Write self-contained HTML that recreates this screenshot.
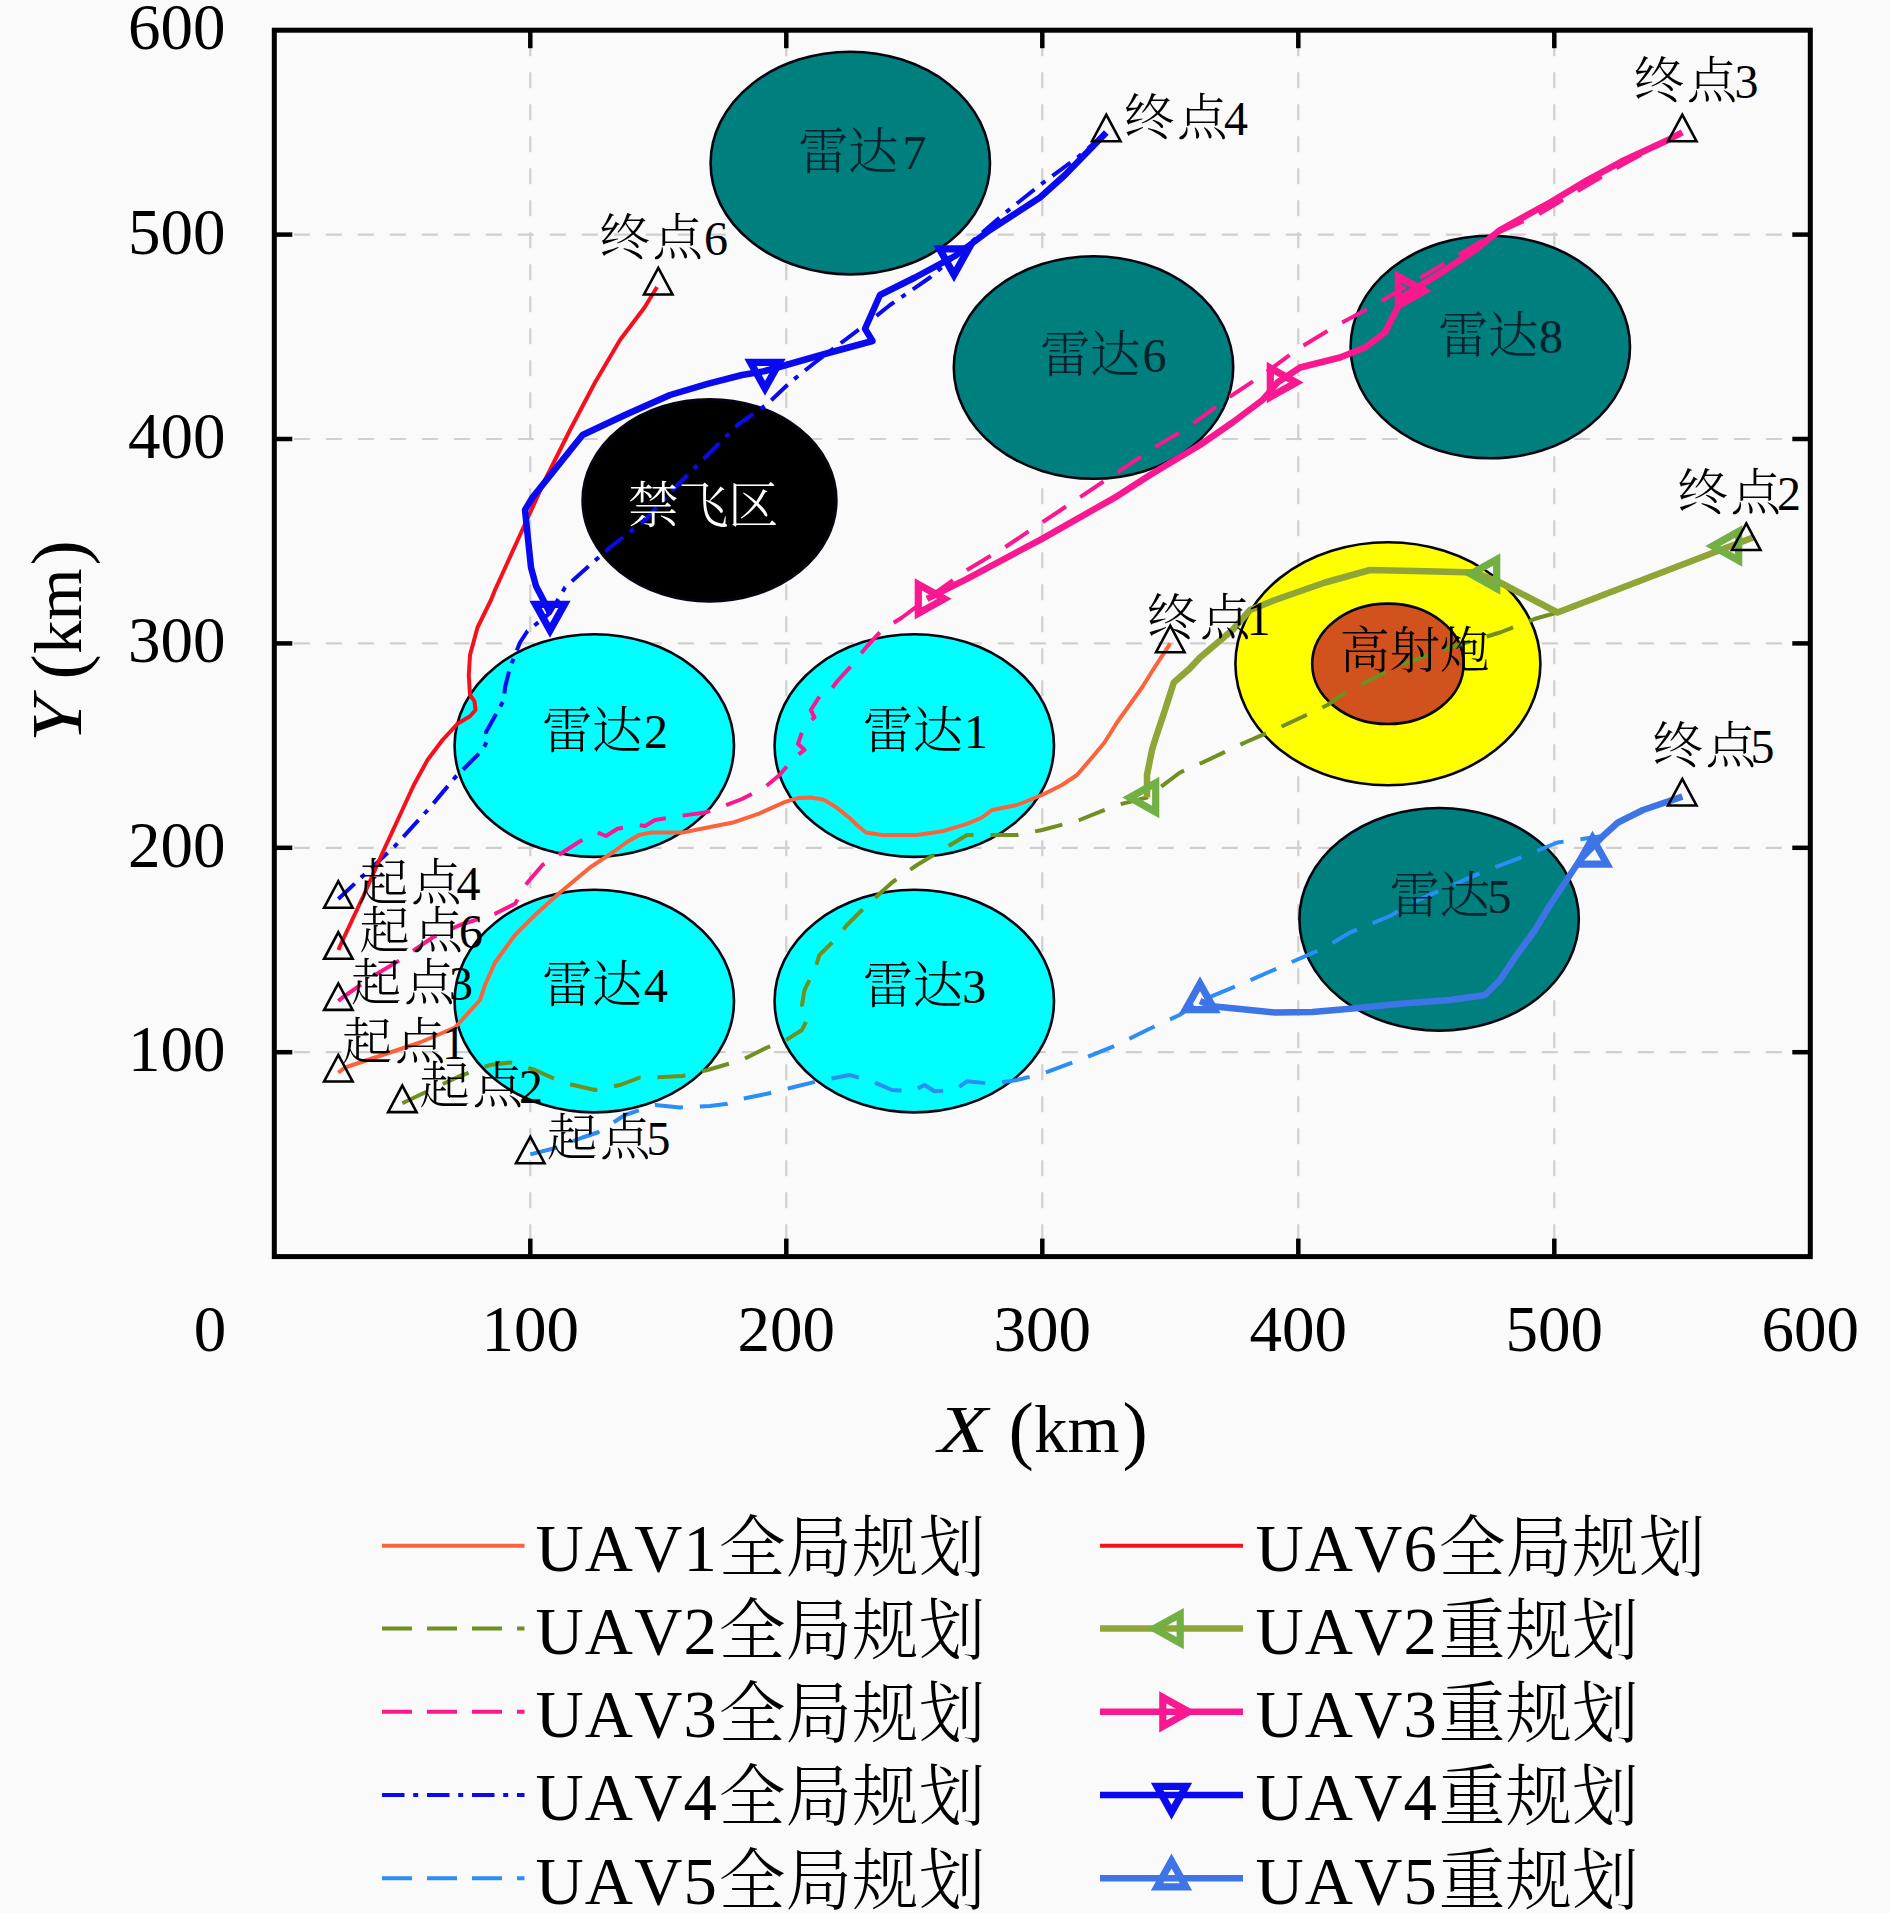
<!DOCTYPE html>
<html lang="zh"><head><meta charset="utf-8"><title>UAV path planning</title>
<style>
html,body{margin:0;padding:0;background:#fafafa;}
body{width:1890px;height:1913px;overflow:hidden;}
svg{display:block;font-family:"Liberation Serif", "Noto Serif CJK SC", serif;}
.grid{stroke:#cfcfcf;stroke-width:2.2;stroke-dasharray:16 16;fill:none}
.tick{stroke:#000;stroke-width:4.5;fill:none}
.num{font-size:65px;fill:#000}
.cn{font-size:50.5px;font-weight:300;font-kerning:none;letter-spacing:-0.5px}
.dg{font-size:48px;font-weight:400}
.ax{font-size:67px;fill:#000}
.lg{font-size:66.7px;fill:#000;font-weight:300;font-kerning:none}
.tri{fill:none;stroke:#000;stroke-width:2.6;stroke-linejoin:miter}
path.c{fill:none;stroke-linejoin:round;stroke-linecap:butt}
</style></head><body>
<svg width="1890" height="1913" viewBox="0 0 1890 1913">
<rect width="1890" height="1913" fill="#fafafa"/>
<line x1="530.3" y1="30.2" x2="530.3" y2="1256.6" class="grid" stroke-dashoffset="22"/>
<line x1="274.3" y1="1052.2" x2="1810.3" y2="1052.2" class="grid" stroke-dashoffset="12.5"/>
<line x1="786.3" y1="30.2" x2="786.3" y2="1256.6" class="grid" stroke-dashoffset="22"/>
<line x1="274.3" y1="847.8" x2="1810.3" y2="847.8" class="grid" stroke-dashoffset="12.5"/>
<line x1="1042.3" y1="30.2" x2="1042.3" y2="1256.6" class="grid" stroke-dashoffset="22"/>
<line x1="274.3" y1="643.4" x2="1810.3" y2="643.4" class="grid" stroke-dashoffset="12.5"/>
<line x1="1298.3" y1="30.2" x2="1298.3" y2="1256.6" class="grid" stroke-dashoffset="22"/>
<line x1="274.3" y1="439.0" x2="1810.3" y2="439.0" class="grid" stroke-dashoffset="12.5"/>
<line x1="1554.3" y1="30.2" x2="1554.3" y2="1256.6" class="grid" stroke-dashoffset="22"/>
<line x1="274.3" y1="234.6" x2="1810.3" y2="234.6" class="grid" stroke-dashoffset="12.5"/>
<ellipse cx="850.3" cy="163.1" rx="139.7" ry="111.3" fill="#007f7f" stroke="#05050f" stroke-width="2.6"/>
<ellipse cx="1093.5" cy="367.5" rx="139.7" ry="111.3" fill="#007f7f" stroke="#05050f" stroke-width="2.6"/>
<ellipse cx="1490.3" cy="347.0" rx="139.7" ry="111.3" fill="#007f7f" stroke="#05050f" stroke-width="2.6"/>
<ellipse cx="1439.1" cy="919.3" rx="139.7" ry="111.3" fill="#007f7f" stroke="#05050f" stroke-width="2.6"/>
<ellipse cx="709.5" cy="500.3" rx="126.9" ry="101.1" fill="#000" stroke="#05050f" stroke-width="2.6"/>
<ellipse cx="594.3" cy="745.6" rx="139.7" ry="111.3" fill="#00ffff" stroke="#05050f" stroke-width="2.6"/>
<ellipse cx="914.3" cy="745.6" rx="139.7" ry="111.3" fill="#00ffff" stroke="#05050f" stroke-width="2.6"/>
<ellipse cx="594.3" cy="1001.1" rx="139.7" ry="111.3" fill="#00ffff" stroke="#05050f" stroke-width="2.6"/>
<ellipse cx="914.3" cy="1001.1" rx="139.7" ry="111.3" fill="#00ffff" stroke="#05050f" stroke-width="2.6"/>
<ellipse cx="1387.9" cy="663.8" rx="152.5" ry="121.5" fill="#ffff00" stroke="#05050f" stroke-width="2.6"/>
<ellipse cx="1387.9" cy="663.8" rx="75.7" ry="60.2" fill="#d2521e" stroke="#05050f" stroke-width="2.6"/>
<rect x="274.3" y="30.2" width="1536.0" height="1226.4" fill="none" stroke="#000" stroke-width="5"/>
<line x1="530.3" y1="30.2" x2="530.3" y2="48.2" class="tick"/>
<line x1="530.3" y1="1256.6" x2="530.3" y2="1238.6" class="tick"/>
<line x1="274.3" y1="1052.2" x2="292.3" y2="1052.2" class="tick"/>
<line x1="1810.3" y1="1052.2" x2="1792.3" y2="1052.2" class="tick"/>
<line x1="786.3" y1="30.2" x2="786.3" y2="48.2" class="tick"/>
<line x1="786.3" y1="1256.6" x2="786.3" y2="1238.6" class="tick"/>
<line x1="274.3" y1="847.8" x2="292.3" y2="847.8" class="tick"/>
<line x1="1810.3" y1="847.8" x2="1792.3" y2="847.8" class="tick"/>
<line x1="1042.3" y1="30.2" x2="1042.3" y2="48.2" class="tick"/>
<line x1="1042.3" y1="1256.6" x2="1042.3" y2="1238.6" class="tick"/>
<line x1="274.3" y1="643.4" x2="292.3" y2="643.4" class="tick"/>
<line x1="1810.3" y1="643.4" x2="1792.3" y2="643.4" class="tick"/>
<line x1="1298.3" y1="30.2" x2="1298.3" y2="48.2" class="tick"/>
<line x1="1298.3" y1="1256.6" x2="1298.3" y2="1238.6" class="tick"/>
<line x1="274.3" y1="439.0" x2="292.3" y2="439.0" class="tick"/>
<line x1="1810.3" y1="439.0" x2="1792.3" y2="439.0" class="tick"/>
<line x1="1554.3" y1="30.2" x2="1554.3" y2="48.2" class="tick"/>
<line x1="1554.3" y1="1256.6" x2="1554.3" y2="1238.6" class="tick"/>
<line x1="274.3" y1="234.6" x2="292.3" y2="234.6" class="tick"/>
<line x1="1810.3" y1="234.6" x2="1792.3" y2="234.6" class="tick"/>
<path class="c" d="M338.3,1072.6 L345.0,1067.5 L382.5,1055.0 L420.0,1042.5 L455.0,1027.5 L480.0,1000.0 L485.0,985.0 L495.0,962.5 L515.0,935.0 L535.0,915.0 L560.0,892.5 L590.0,867.5 L612.5,852.5 L627.0,842.0 L639.0,835.0 L651.7,832.4 L683.5,832.4 L708.9,827.3 L734.3,822.2 L759.7,813.3 L785.1,801.9 L797.8,798.1 L810.5,797.5 L823.2,799.4 L835.9,807.0 L848.6,817.1 L858.0,826.0 L866.0,832.5 L882.0,835.0 L917.0,835.0 L942.0,831.3 L967.0,823.8 L982.0,817.5 L992.0,810.0 L1017.0,805.0 L1042.0,795.0 L1062.0,785.0 L1077.0,775.0 L1092.0,757.5 L1104.5,742.5 L1117.0,722.5 L1129.5,705.0 L1142.0,687.5 L1154.5,667.5 L1170.3,643.4" stroke="#f9643c" stroke-width="4.0"/>
<path class="c" d="M402.3,1103.3 L430.0,1090.0 L460.0,1076.0 L490.0,1065.0 L510.0,1062.5 L535.0,1070.0 L562.5,1082.5 L595.0,1090.0 L620.0,1085.0 L640.0,1077.5 L655.0,1077.5 L682.5,1076.0 L707.5,1070.0 L742.0,1060.0 L767.0,1047.5 L784.5,1041.0 L802.0,1030.0 L808.0,1017.5 L802.0,1005.0 L804.5,990.0 L814.5,970.0 L819.5,955.0 L834.5,940.0 L847.0,925.0 L867.0,905.0 L892.0,882.5 L917.0,865.0 L942.0,850.0 L967.0,835.0 L992.0,835.0 L1017.0,835.0 L1042.0,830.0 L1079.5,820.0 L1117.0,805.0 L1147.0,797.5 L1180.0,772.5 L1202.5,762.5 L1245.0,742.5 L1285.0,725.0 L1327.5,705.0 L1345.0,692.5 L1400.0,665.0 L1450.0,647.5 L1500.0,632.5 L1535.0,618.8 L1557.5,612.5 L1753.0,537.5" stroke="#6f8f1e" stroke-width="4.0" stroke-dasharray="28 17"/>
<path class="c" d="M338.3,1001.0 L342.5,997.5 L375.0,975.0 L400.0,960.0 L432.5,937.5 L460.0,925.0 L495.0,913.8 L515.0,903.8 L527.5,882.5 L542.5,865.0 L562.5,852.5 L580.0,841.3 L597.5,832.5 L606.0,836.0 L617.5,828.8 L637.5,825.0 L645.0,826.0 L655.0,820.0 L680.0,816.0 L705.0,812.5 L720.0,807.5 L742.0,799.0 L764.5,787.5 L779.5,775.0 L794.5,757.5 L804.5,750.0 L798.0,743.8 L804.5,725.0 L814.5,717.5 L810.8,710.0 L822.0,692.5 L829.5,691.3 L838.3,680.0 L852.0,665.0 L867.0,646.3 L882.0,630.0 L902.0,617.5 L927.0,598.8 L967.0,570.0 L1004.5,547.5 L1042.0,522.5 L1079.5,497.5 L1117.0,472.5 L1154.5,447.5 L1187.5,427.5 L1232.5,395.0 L1262.5,375.0 L1300.0,347.5 L1337.5,325.0 L1375.0,305.0 L1412.5,282.5 L1450.0,260.0 L1487.5,237.5 L1537.5,215.0 L1575.0,192.5 L1622.0,165.0 L1682.3,132.4" stroke="#fa1890" stroke-width="4.0" stroke-dasharray="28 17"/>
<path class="c" d="M338.3,899.0 L395.0,846.0 L430.0,807.5 L455.0,777.5 L482.5,750.0 L487.5,740.0 L486.0,732.0 L490.0,725.0 L503.8,700.0 L505.0,687.5 L510.0,667.5 L520.0,642.5 L527.5,631.0 L550.0,613.0 L565.0,587.5 L590.0,565.0 L610.0,547.5 L645.0,520.0 L675.0,487.5 L707.5,455.0 L737.5,425.0 L767.5,403.8 L790.0,382.5 L815.0,362.5 L845.0,340.0 L865.0,325.0 L890.0,305.0 L930.0,277.5 L965.0,247.5 L1002.5,215.0 L1040.0,185.0 L1077.5,157.5 L1106.3,132.4" stroke="#0a0af0" stroke-width="4.0" stroke-dasharray="22.5 8.7 5 8.8"/>
<path class="c" d="M530.3,1154.4 L557.5,1147.5 L582.5,1137.5 L597.5,1132.5 L625.0,1115.0 L655.0,1105.0 L680.0,1107.5 L710.0,1106.0 L727.5,1103.8 L742.0,1098.8 L767.0,1093.8 L792.0,1087.5 L817.0,1081.3 L849.5,1075.0 L872.0,1081.3 L892.0,1090.0 L912.0,1091.3 L924.5,1085.0 L934.5,1091.3 L954.5,1090.0 L967.0,1081.3 L992.0,1083.8 L1017.0,1080.0 L1042.0,1073.8 L1079.5,1060.0 L1117.0,1045.0 L1147.0,1030.0 L1179.5,1015.0 L1200.0,1001.0 L1245.0,982.5 L1285.0,965.0 L1325.0,947.5 L1350.0,932.5 L1390.0,916.0 L1412.5,902.5 L1487.5,870.0 L1517.5,858.8 L1557.5,842.5 L1582.0,839.0 L1603.0,836.0 L1618.0,822.5 L1643.0,810.0 L1682.3,796.7" stroke="#2a8ef5" stroke-width="4.0" stroke-dasharray="28 17"/>
<path class="c" d="M338.5,950.0 L340.0,946.0 L365.0,892.5 L383.8,850.0 L400.0,815.0 L413.8,785.0 L427.5,760.0 L442.5,740.0 L457.5,723.8 L470.0,716.3 L475.5,710.0 L474.5,701.3 L470.0,695.0 L468.8,675.0 L470.0,655.0 L477.5,627.5 L491.0,600.0 L495.0,590.0 L520.0,535.0 L545.0,480.0 L570.0,430.0 L595.0,382.5 L620.0,340.0 L644.5,307.5 L657.0,287.0" stroke="#f5101e" stroke-width="4.0"/>
<path class="c" d="M1147.0,797.5 L1147.0,775.0 L1152.0,750.0 L1155.0,740.0 L1165.0,710.0 L1173.8,682.5 L1189.5,668.8 L1200.0,657.5 L1232.5,630.0 L1250.0,610.0 L1275.0,600.0 L1325.0,582.5 L1370.0,570.0 L1425.0,571.3 L1475.0,572.5 L1500.0,582.5 L1557.5,612.5 L1753.0,537.5" stroke="#8fa535" stroke-width="6.5"/>
<path class="c" d="M927.0,598.8 L967.0,578.8 L1042.0,538.8 L1117.0,496.3 L1150.0,475.0 L1200.0,445.0 L1232.5,422.5 L1262.5,400.0 L1277.5,382.5 L1300.0,367.5 L1340.0,357.5 L1365.0,347.5 L1385.0,332.5 L1395.0,312.5 L1405.0,295.0 L1437.5,275.0 L1475.0,250.0 L1500.0,230.0 L1550.0,202.5 L1587.5,180.0 L1622.0,161.3 L1668.0,140.0 L1682.3,132.4" stroke="#fa1890" stroke-width="6.5"/>
<path class="c" d="M550.0,613.0 L536.0,586.0 L531.0,567.5 L525.0,510.0 L532.5,497.5 L582.5,435.0 L625.0,415.0 L670.0,395.0 L707.5,383.8 L742.0,375.0 L765.0,371.0 L830.0,352.5 L872.5,341.0 L865.0,328.8 L870.0,317.5 L880.0,295.0 L915.0,277.5 L955.0,256.0 L990.0,230.0 L1040.0,197.5 L1065.0,175.0 L1106.3,132.4" stroke="#0a0af0" stroke-width="6.5"/>
<path class="c" d="M1200.0,1001.0 L1212.5,1006.3 L1250.0,1010.0 L1275.0,1012.5 L1312.5,1012.0 L1350.0,1008.8 L1400.0,1003.8 L1450.0,1000.0 L1485.0,995.0 L1500.0,980.0 L1515.0,957.5 L1535.0,930.0 L1550.0,905.0 L1565.0,882.5 L1580.0,860.0 L1592.5,847.0 L1603.0,836.0 L1618.0,822.5 L1643.0,810.0 L1682.3,796.7" stroke="#3d74e6" stroke-width="6.5"/>
<path d="M1155.7,783.0 L1155.7,812.0 L1129.7,797.5 Z" fill="none" stroke="#72b043" stroke-width="7.2" stroke-linejoin="miter"/>
<path d="M1496.7,559.5 L1496.7,588.5 L1470.7,574.0 Z" fill="none" stroke="#72b043" stroke-width="7.2" stroke-linejoin="miter"/>
<path d="M1738.7,531.5 L1738.7,560.5 L1712.7,546.0 Z" fill="none" stroke="#72b043" stroke-width="7.2" stroke-linejoin="miter"/>
<path d="M918.3,584.3 L918.3,613.3 L944.3,598.8 Z" fill="none" stroke="#fa1890" stroke-width="7.2" stroke-linejoin="miter"/>
<path d="M1270.3,368.0 L1270.3,397.0 L1296.3,382.5 Z" fill="none" stroke="#fa1890" stroke-width="7.2" stroke-linejoin="miter"/>
<path d="M1398.3,276.5 L1398.3,305.5 L1424.3,291.0 Z" fill="none" stroke="#fa1890" stroke-width="7.2" stroke-linejoin="miter"/>
<path d="M535.5,604.3 L564.5,604.3 L550.0,630.3 Z" fill="none" stroke="#0a0af0" stroke-width="7.2" stroke-linejoin="miter"/>
<path d="M750.5,362.3 L779.5,362.3 L765.0,388.3 Z" fill="none" stroke="#0a0af0" stroke-width="7.2" stroke-linejoin="miter"/>
<path d="M939.5,248.8 L968.5,248.8 L954.0,274.8 Z" fill="none" stroke="#0a0af0" stroke-width="7.2" stroke-linejoin="miter"/>
<path d="M1185.5,1009.7 L1214.5,1009.7 L1200.0,983.7 Z" fill="none" stroke="#3d74e6" stroke-width="7.2" stroke-linejoin="miter"/>
<path d="M1578.0,864.1 L1607.0,864.1 L1592.5,838.1 Z" fill="none" stroke="#3d74e6" stroke-width="7.2" stroke-linejoin="miter"/>
<path class="tri" d="M324.1,907.7 L352.6,907.7 L338.3,881.2 Z"/>
<path class="tri" d="M324.1,958.8 L352.6,958.8 L338.3,932.3 Z"/>
<path class="tri" d="M324.1,1009.9 L352.6,1009.9 L338.3,983.4 Z"/>
<path class="tri" d="M324.1,1081.5 L352.6,1081.5 L338.3,1055.0 Z"/>
<path class="tri" d="M388.1,1112.1 L416.6,1112.1 L402.3,1085.6 Z"/>
<path class="tri" d="M516.0,1163.2 L544.5,1163.2 L530.3,1136.7 Z"/>
<path class="tri" d="M1156.0,652.2 L1184.5,652.2 L1170.3,625.7 Z"/>
<path class="tri" d="M1732.0,550.0 L1760.5,550.0 L1746.3,523.5 Z"/>
<path class="tri" d="M1668.0,141.2 L1696.5,141.2 L1682.3,114.7 Z"/>
<path class="tri" d="M1092.0,141.2 L1120.5,141.2 L1106.3,114.7 Z"/>
<path class="tri" d="M1668.0,805.5 L1696.5,805.5 L1682.3,779.0 Z"/>
<path class="tri" d="M644.0,294.5 L672.5,294.5 L658.3,268.0 Z"/>
<text class="cn" x="862.8 912.8" y="747.5" fill="#000">雷达</text>
<text class="dg" text-anchor="middle" x="976.0" y="747.5" fill="#000">1</text>
<text class="cn" x="542.0 592.0" y="747.5" fill="#000">雷达</text>
<text class="dg" text-anchor="middle" x="656.0" y="747.5" fill="#000">2</text>
<text class="cn" x="862.8 912.8" y="1002.5" fill="#000">雷达</text>
<text class="dg" text-anchor="middle" x="974.3" y="1002.5" fill="#000">3</text>
<text class="cn" x="542.0 592.0" y="1001.5" fill="#000">雷达</text>
<text class="dg" text-anchor="middle" x="656.0" y="1001.5" fill="#000">4</text>
<text class="cn" x="1389.5 1439.5" y="912.5" fill="#04222e">雷达</text>
<text class="dg" text-anchor="middle" x="1499.5" y="912.5" fill="#04222e">5</text>
<text class="cn" x="1040.0 1090.0" y="372.0" fill="#04222e">雷达</text>
<text class="dg" text-anchor="middle" x="1154.5" y="372.0" fill="#04222e">6</text>
<text class="cn" x="798.0 848.0" y="169.0" fill="#04222e">雷达</text>
<text class="dg" text-anchor="middle" x="914.5" y="169.0" fill="#04222e">7</text>
<text class="cn" x="1438.0 1488.0" y="352.5" fill="#04222e">雷达</text>
<text class="dg" text-anchor="middle" x="1551.0" y="352.5" fill="#04222e">8</text>
<text class="cn" x="1339.5" y="668.0" fill="#000">高射炮</text>
<text class="cn" x="1147.0 1200.0" y="635.0" fill="#000">终点</text>
<text class="dg" text-anchor="middle" x="1258.5" y="635.0" fill="#000">1</text>
<text class="cn" x="1677.5 1730.5" y="510.0" fill="#000">终点</text>
<text class="dg" text-anchor="middle" x="1789.0" y="510.0" fill="#000">2</text>
<text class="cn" x="1633.8 1686.8" y="97.5" fill="#000">终点</text>
<text class="dg" text-anchor="middle" x="1746.5" y="97.5" fill="#000">3</text>
<text class="cn" x="1124.0 1177.0" y="135.0" fill="#000">终点</text>
<text class="dg" text-anchor="middle" x="1236.0" y="135.0" fill="#000">4</text>
<text class="cn" x="1652.5 1705.5" y="762.5" fill="#000">终点</text>
<text class="dg" text-anchor="middle" x="1762.5" y="762.5" fill="#000">5</text>
<text class="cn" x="599.5 652.5" y="255.0" fill="#000">终点</text>
<text class="dg" text-anchor="middle" x="716.0" y="255.0" fill="#000">6</text>
<text class="cn" x="358.0 411.0" y="900.0" fill="#000">起点</text>
<text class="dg" text-anchor="middle" x="468.5" y="900.0" fill="#000">4</text>
<text class="cn" x="359.5 412.5" y="947.5" fill="#000">起点</text>
<text class="dg" text-anchor="middle" x="471.0" y="947.5" fill="#000">6</text>
<text class="cn" x="351.0 404.0" y="1000.0" fill="#000">起点</text>
<text class="dg" text-anchor="middle" x="461.0" y="1000.0" fill="#000">3</text>
<text class="cn" x="342.0 395.0" y="1059.0" fill="#000">起点</text>
<text class="dg" text-anchor="middle" x="454.0" y="1059.0" fill="#000">1</text>
<text class="cn" x="419.5 472.5" y="1102.5" fill="#000">起点</text>
<text class="dg" text-anchor="middle" x="531.0" y="1102.5" fill="#000">2</text>
<text class="cn" x="547.0 600.0" y="1155.0" fill="#000">起点</text>
<text class="dg" text-anchor="middle" x="658.5" y="1155.0" fill="#000">5</text>
<text class="cn" x="628.0" y="522.5" fill="#fff">禁飞区</text>
<text class="num" text-anchor="end" x="225.5" y="1071.2">100</text>
<text class="num" text-anchor="middle" x="530.3" y="1351">100</text>
<text class="num" text-anchor="end" x="225.5" y="866.8">200</text>
<text class="num" text-anchor="middle" x="786.3" y="1351">200</text>
<text class="num" text-anchor="end" x="225.5" y="662.4">300</text>
<text class="num" text-anchor="middle" x="1042.3" y="1351">300</text>
<text class="num" text-anchor="end" x="225.5" y="458.0">400</text>
<text class="num" text-anchor="middle" x="1298.3" y="1351">400</text>
<text class="num" text-anchor="end" x="225.5" y="253.6">500</text>
<text class="num" text-anchor="middle" x="1554.3" y="1351">500</text>
<text class="num" text-anchor="end" x="225.5" y="49.2">600</text>
<text class="num" text-anchor="middle" x="1810.3" y="1351">600</text>
<text class="num" text-anchor="middle" x="210" y="1351">0</text>
<text class="ax" transform="translate(938,1452) scale(1.2,1)" style="font-style:italic;font-size:68px">X</text>
<text class="ax" style="font-size:76px" x="1008.5" y="1455">(</text>
<text class="ax" x="1034 1067.5" y="1452">km</text>
<text class="ax" style="font-size:76px" x="1122.5" y="1455">)</text>
<g transform="translate(81,738) rotate(-90)"><text class="ax" transform="translate(-4,0) scale(1.12,1)" style="font-style:italic;font-size:72px">Y</text><text class="ax" style="font-size:76px" x="58.5" y="3">(</text><text class="ax" x="84 117.5" y="0">km</text><text class="ax" style="font-size:76px" x="172.5" y="3">)</text></g>
<path class="c" d="M382.0,1545.7 L524.5,1545.7" stroke="#f9643c" stroke-width="4.0"/>
<text class="lg" x="535.5" y="1571.0"><tspan letter-spacing="1.2">UAV1</tspan><tspan dx="0.6">全局规划</tspan></text>
<path class="c" d="M382.0,1628.6 L524.5,1628.6" stroke="#6f8f1e" stroke-width="4.0" stroke-dasharray="30 15"/>
<text class="lg" x="535.5" y="1653.9"><tspan letter-spacing="1.2">UAV2</tspan><tspan dx="0.6">全局规划</tspan></text>
<path class="c" d="M382.0,1711.8 L524.5,1711.8" stroke="#fa1890" stroke-width="4.0" stroke-dasharray="30 15"/>
<text class="lg" x="535.5" y="1737.1"><tspan letter-spacing="1.2">UAV3</tspan><tspan dx="0.6">全局规划</tspan></text>
<path class="c" d="M382.0,1795.0 L524.5,1795.0" stroke="#0a0af0" stroke-width="4.0" stroke-dasharray="22.5 8.7 5 8.8"/>
<text class="lg" x="535.5" y="1820.3"><tspan letter-spacing="1.2">UAV4</tspan><tspan dx="0.6">全局规划</tspan></text>
<path class="c" d="M382.0,1878.2 L524.5,1878.2" stroke="#2a8ef5" stroke-width="4.0" stroke-dasharray="30 15"/>
<text class="lg" x="535.5" y="1903.5"><tspan letter-spacing="1.2">UAV5</tspan><tspan dx="0.6">全局规划</tspan></text>
<path class="c" d="M1100.0,1545.7 L1243.0,1545.7" stroke="#f5101e" stroke-width="4.0"/>
<text class="lg" x="1255.5" y="1571.0"><tspan letter-spacing="1.2">UAV6</tspan><tspan dx="0.6">全局规划</tspan></text>
<path class="c" d="M1100.0,1628.6 L1243.0,1628.6" stroke="#8fa535" stroke-width="6.5"/>
<path d="M1180.2,1614.1 L1180.2,1643.1 L1154.2,1628.6 Z" fill="none" stroke="#72b043" stroke-width="7.2" stroke-linejoin="miter"/>
<text class="lg" x="1255.5" y="1653.9"><tspan letter-spacing="1.2">UAV2</tspan><tspan dx="0.6">重规划</tspan></text>
<path class="c" d="M1100.0,1711.8 L1243.0,1711.8" stroke="#fa1890" stroke-width="6.5"/>
<path d="M1162.8,1697.3 L1162.8,1726.3 L1188.8,1711.8 Z" fill="none" stroke="#fa1890" stroke-width="7.2" stroke-linejoin="miter"/>
<text class="lg" x="1255.5" y="1737.1"><tspan letter-spacing="1.2">UAV3</tspan><tspan dx="0.6">重规划</tspan></text>
<path class="c" d="M1100.0,1795.0 L1243.0,1795.0" stroke="#0a0af0" stroke-width="6.5"/>
<path d="M1157.0,1786.3 L1186.0,1786.3 L1171.5,1812.3 Z" fill="none" stroke="#0a0af0" stroke-width="7.2" stroke-linejoin="miter"/>
<text class="lg" x="1255.5" y="1820.3"><tspan letter-spacing="1.2">UAV4</tspan><tspan dx="0.6">重规划</tspan></text>
<path class="c" d="M1100.0,1878.2 L1243.0,1878.2" stroke="#3d74e6" stroke-width="6.5"/>
<path d="M1157.0,1886.9 L1186.0,1886.9 L1171.5,1860.9 Z" fill="none" stroke="#3d74e6" stroke-width="7.2" stroke-linejoin="miter"/>
<text class="lg" x="1255.5" y="1903.5"><tspan letter-spacing="1.2">UAV5</tspan><tspan dx="0.6">重规划</tspan></text>
</svg>
</body></html>
